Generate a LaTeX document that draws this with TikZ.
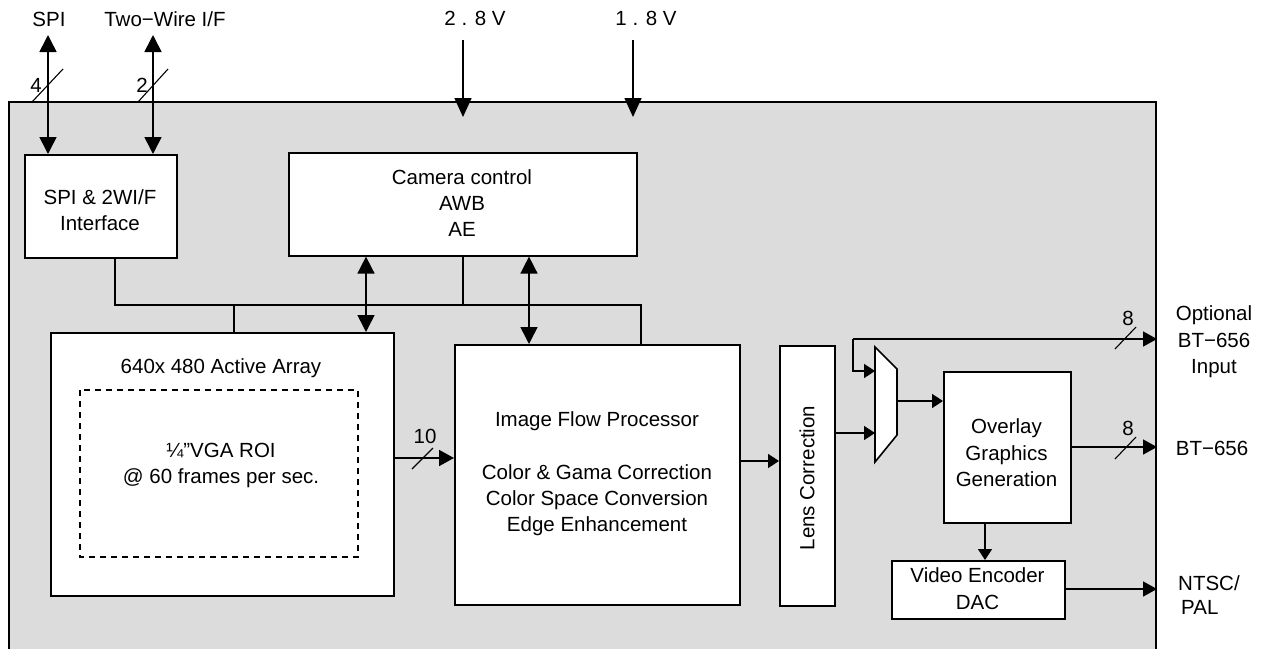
\documentclass[tikz,border=0pt]{standalone}
\usepackage{fontspec}
\setmainfont{Liberation Sans}
\usetikzlibrary{arrows.meta}
\definecolor{bggray}{HTML}{DCDCDC}
\tikzset{
  blk/.style={draw, fill=white, line width=1.6pt, inner sep=0pt, anchor=north west},
  lbl/.style={inner sep=0pt, align=center, font=\fontsize{20.5}{26}\selectfont},
  conn/.style={line width=1.6pt},
  tip/.style={line width=1.6pt, -{Triangle[length=15pt,width=16pt]}},
  tippow/.style={line width=1.6pt, -{Triangle[length=19pt,width=17pt]}},
  tipout/.style={line width=1.6pt, -{Triangle[length=14pt,width=15pt]}},
  tipsm/.style={line width=1.6pt, -{Triangle[length=11pt,width=14pt]}},
  dtip/.style={line width=1.6pt, {Triangle[length=17pt,width=17pt]}-{Triangle[length=17pt,width=17pt]}},
  slashmark/.style={line width=1.1pt}
}
\begin{document}
\begin{tikzpicture}[x=1pt,y=-1pt]
\useasboundingbox (0,0) rectangle (1263,648);
\begin{scope}
\clip (0,0) rectangle (1263,648);
\draw[fill=bggray, line width=1.6pt] (9,102) rectangle (1156,660);
\end{scope}
\coordinate (outerR) at (1157,0);

% blocks
\node[blk, minimum width=152pt, minimum height=103pt] (spi) at (24,154) {};
\node[lbl] at (100,210.5) {SPI \& 2WI/F\\Interface};
\node[blk, minimum width=348pt, minimum height=103pt] (cam) at (288,152) {};
\node[lbl] at (462,203) {Camera control\\AWB\\AE};
\node[blk, minimum width=343pt, minimum height=263pt] (arr) at (50,332) {};
\node[lbl] at (221,368) {640x 480 Active Array};
\draw[line width=1.2pt, dash pattern=on 6pt off 5pt] (80,390) rectangle (358,557);
\node[lbl] (roi) at (221,465) {¼”VGA ROI\\@ 60 frames per sec.};
\node[blk, minimum width=285pt, minimum height=260pt] (ifp) at (454,344) {};
\node[lbl] (ifpt) at (597,474) {Image Flow Processor\\[27pt]Color \& Gama Correction\\Color Space Conversion\\Edge Enhancement};
\node[blk, minimum width=55pt, minimum height=260pt] (lens) at (779,345) {};
\node[lbl, rotate=90] at (807,478) {Lens Correction};
\node[blk, minimum width=127pt, minimum height=151pt] (ovl) at (943,371) {};
\node[lbl, font=\fontsize{20.5}{26.5}\selectfont] at (1006.5,453) {Overlay\\Graphics\\Generation};
\node[blk, minimum width=173pt, minimum height=58pt] (venc) at (891,560) {};
\node[lbl, font=\fontsize{20.5}{27}\selectfont] at (977.5,588.5) {Video Encoder\\DAC};

% mux
\draw[fill=white, line width=1.6pt] (875,347) -- (897,369) -- (897,435) -- (875,462) -- cycle;
\coordinate (muxin1) at (875,371);
\coordinate (muxin2) at (875,433);
\coordinate (muxout) at (897,401);

% external labels
\node[lbl] (tspi) at (49,19) {SPI};
\node[lbl] (ttw) at (165,19) {Two−Wire I/F};
\node[lbl] (t28) at (475,18) {2 . 8 V};
\node[lbl] (t18) at (646,18) {1 . 8 V};
\node[lbl, font=\fontsize{20.5}{26.5}\selectfont] (topt) at (1214,342) {Optional\\BT−656\\Input};
\node[lbl] (tbt) at (1212,448) {BT−656};
\node[lbl, align=left, anchor=west, font=\fontsize{20.5}{24}\selectfont] (tntsc) at (1178,595) {NTSC/\\\hspace*{3pt}PAL};

% top I/O arrows
\coordinate (spitop) at (48,35);
\coordinate (twtop) at (153,35);
\draw[dtip] (spitop) -- (spi.north west -| spitop);
\draw[dtip] (twtop) -- (spi.north west -| twtop);
\draw[slashmark] (32,102) -- (63,69);
\node[lbl] at (36,85) {4};
\draw[slashmark] (138,102) -- (168,69);
\node[lbl] at (142,85) {2};

\coordinate (p28) at (463,40);
\coordinate (p18) at (633,40);
\draw[tippow] (p28) -- (463,117);
\draw[tippow] (p18) -- (633,117);

% bus
\coordinate (b1) at (115,305);
\draw[conn] (spi.south -| b1) -- (b1) -- (641,305) -- (ifp.north -| 641,0);
\draw[conn] (cam.south -| 463,0) -- (463,305);
\draw[conn] (234,305) -- (arr.north -| 234,0);
\draw[dtip] (cam.south -| 366,0) -- (arr.north -| 366,0);
\draw[dtip] (cam.south -| 529,0) -- (ifp.north -| 529,0);

% data path
\draw[tip] (arr.east |- 0,458) -- (ifp.west |- 0,458);
\draw[slashmark] (412,469) -- (433,448);
\node[lbl] at (425,436) {10};
\draw[tipsm] (ifp.east |- 0,461) -- (lens.west |- 0,461);
\draw[tipsm] (lens.east |- muxin2) -- (muxin2);
\draw[tipsm] (muxout) -- (ovl.west |- muxout);
\coordinate (optj) at (853,339);
\draw[tipout] (optj) -- (outerR |- optj);
\draw[tipsm] (optj) -- (853,371) -- (muxin1);
\draw[slashmark] (1115,349) -- (1136,327);
\node[lbl] at (1128,318) {8};
\draw[tipout] (ovl.east |- 0,447) -- (outerR |- 0,447);
\draw[slashmark] (1115,459) -- (1136,437);
\node[lbl] at (1128,428) {8};
\draw[tipsm] (ovl.south -| 985,0) -- (venc.north -| 985,0);
\draw[tipout] (venc.east |- 0,589) -- (outerR |- 0,589);
\end{tikzpicture}
\end{document}
